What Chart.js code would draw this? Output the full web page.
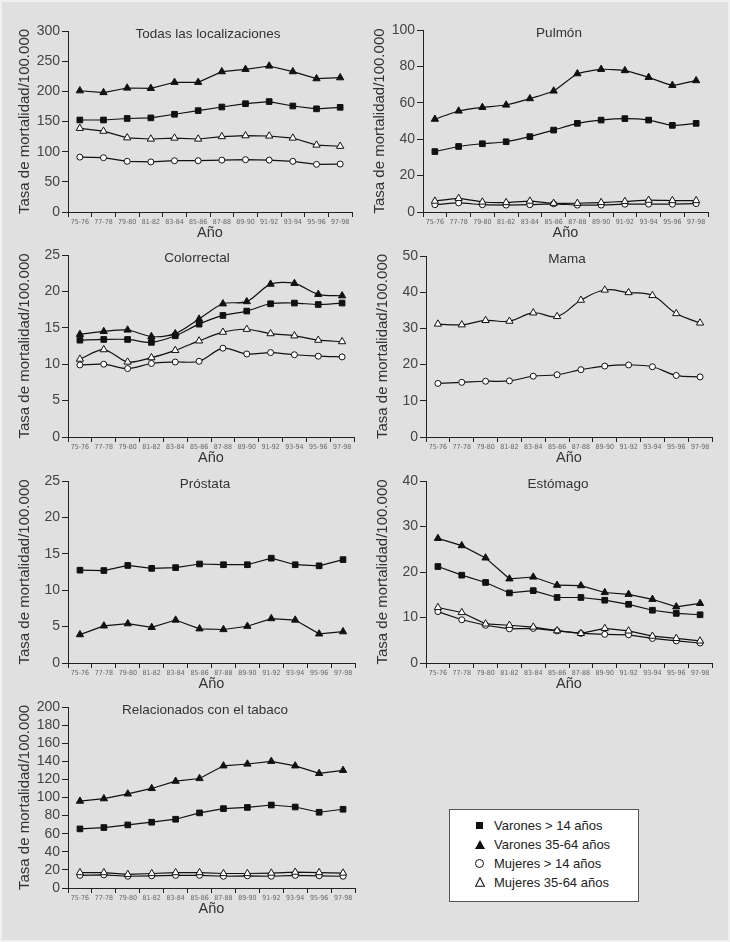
<!DOCTYPE html>
<html>
<head>
<meta charset="utf-8">
<script src="https://cdn.jsdelivr.net/npm/chart.js@4.4.0/dist/chart.umd.min.js"></script>
<style>
  body { margin: 0; background: #f2f2f2; }
  #page { position: relative; width: 730px; height: 942px; background: #e0e0e0;
          box-shadow: inset 0 0 0 2px #f0f0f0; overflow: hidden;
          font-family: 'Liberation Sans', Arial, sans-serif; }
  .panel { position: absolute; }
  #legend { position: absolute; left: 449px; top: 809px; width: 190px; height: 93px;
            background: #fff; border: 1px solid #555; box-sizing: border-box; }
  .row { position: absolute; left: 0; height: 19px; line-height: 19px; font-size: 13px; color: #222; }
  .row span.t { position: absolute; left: 44px; white-space: nowrap; }
  .sym { position: absolute; }
  .sq { left: 26px; top: 6px; width: 7px; height: 7px; background: #111; }
  .tri { left: 25px; top: 5px; width: 0; height: 0; border-left: 5px solid transparent; border-right: 5px solid transparent; border-bottom: 9px solid #111; }
  .cir { left: 25px; top: 5px; width: 7px; height: 7px; border: 1.3px solid #111; border-radius: 50%; background: #fff; }
  .otri { left: 25px; top: 4px; width: 10px; height: 10px; }
</style>
</head>
<body>
<div id="page">
  <div id="legend">
    <div class="row" style="top:6px"><div class="sym sq"></div><span class="t">Varones &gt; 14 años</span></div>
    <div class="row" style="top:25px"><div class="sym tri"></div><span class="t">Varones 35-64 años</span></div>
    <div class="row" style="top:44px"><div class="sym cir"></div><span class="t">Mujeres &gt; 14 años</span></div>
    <div class="row" style="top:63px"><svg class="sym otri" viewBox="0 0 10 10"><polygon points="5,0.8 9.4,9.2 0.6,9.2" fill="#fff" stroke="#111" stroke-width="1.1"/></svg><span class="t">Mujeres 35-64 años</span></div>
  </div>
</div>
<script>
const periods = ['75-76','77-78','79-80','81-82','83-84','85-86','87-88','89-90','91-92','93-94','95-96','97-98'];

const todasVar14   = [152.5,152.5,155,156,162,168,174,179.5,183,175.7,171,173.5];
const todasVar3564 = [201,198,205.5,205,215,215,232.6,236.5,242,232.6,221,222.6];
const todasMuj14   = [91,90,84,83,85,85,86,86.7,86,84,79,79.5];
const todasMuj3564 = [138.7,134,123,121,122.6,121,125,126.5,126,122.6,111,109];

const pulmonVar14   = [33.2,36,37.5,38.6,41.4,45,48.7,50.5,51.3,50.5,47.6,48.7];
const pulmonVar3564 = [51,55.5,57.5,58.8,62.3,66.5,76,78.4,77.7,74,69.6,72.2];
const pulmonMuj14   = [4,5,4,3.8,4,4.5,3.8,3.8,4.3,4.3,4.3,4.6];
const pulmonMuj3564 = [6,7.5,5.5,5.2,6,4.8,4.8,5.2,5.8,6.5,6.3,6.3];

const colorVar14   = [13.3,13.4,13.4,13,13.9,15.5,16.7,17.3,18.3,18.4,18.2,18.4];
const colorVar3564 = [14.1,14.5,14.7,13.8,14.2,16.2,18.3,18.6,21,21.1,19.6,19.4];
const colorMuj14   = [9.9,10,9.4,10.1,10.3,10.4,12.2,11.4,11.6,11.3,11.1,11];
const colorMuj3564 = [10.7,12,10.3,10.9,11.9,13.2,14.4,14.8,14.2,13.9,13.3,13.1];

const mamaMuj14   = [14.8,15.1,15.4,15.5,16.8,17.2,18.6,19.6,19.9,19.4,17,16.6];
const mamaMuj3564 = [31.2,31,32.2,32,34.3,33.3,37.8,40.6,39.9,39.1,34.1,31.5];

const prostataVar14   = [12.75,12.7,13.4,13,13.1,13.6,13.5,13.5,14.4,13.5,13.35,14.2];
const prostataVar3564 = [3.9,5.1,5.4,4.9,5.9,4.7,4.6,5.05,6.1,5.9,4.0,4.3];

const estomagoVar14   = [21.2,19.3,17.7,15.4,15.9,14.4,14.4,13.8,12.9,11.6,10.9,10.6];
const estomagoVar3564 = [27.4,25.8,23.1,18.5,18.9,17.1,17,15.5,15.1,14,12.35,13.1];
const estomagoMuj14   = [11.3,9.5,8.3,7.5,7.6,7.05,6.5,6.3,6.2,5.4,4.85,4.4];
const estomagoMuj3564 = [12.2,11.1,8.6,8.3,7.9,7.1,6.5,7.6,7.05,5.9,5.4,4.85];

const tabacoVar14   = [65.3,66.8,69.7,72.7,76,83,87.7,89,91.7,89.5,83.7,87];
const tabacoVar3564 = [96,98.7,104,110,118,121,135,137,140,135,126.6,130];
const tabacoMuj14   = [14,14.5,13,13.5,14,14,13,13.5,13,14,13.5,13];
const tabacoMuj3564 = [17,17,15,16,17,17,16,16,16.5,17.5,17,16.5];

const yTitle = 'Tasa de mortalidad/100.000';
const xTitle = 'Año';

// marker look for each group
const marks = {
  v14:   { label: 'Varones > 14 años',  pointStyle: 'rect',     radius: 4,   fill: '#111' },
  v3564: { label: 'Varones 35-64 años', pointStyle: 'triangle', radius: 4.2, fill: '#111' },
  m14:   { label: 'Mujeres > 14 años',  pointStyle: 'circle',   radius: 3,   fill: '#fff' },
  m3564: { label: 'Mujeres 35-64 años', pointStyle: 'triangle', radius: 4.2, fill: '#fff' }
};

// plot = [left, top, right, bottom] of the chart area on the page
const panels = [
  { title: 'Todas las localizaciones', max: 300, step: 50, plot: [68, 31, 352, 212], titleX: 208, tension: 0,
    series: [['v3564', todasVar3564], ['v14', todasVar14], ['m3564', todasMuj3564], ['m14', todasMuj14]] },
  { title: 'Pulmón', max: 100, step: 20, plot: [423, 30, 708, 212], titleX: 559, tension: 0.15,
    series: [['v3564', pulmonVar3564], ['v14', pulmonVar14], ['m3564', pulmonMuj3564], ['m14', pulmonMuj14]] },
  { title: 'Colorrectal', max: 25, step: 5, plot: [68, 255, 354, 437], titleX: 197, tension: 0.3,
    series: [['v3564', colorVar3564], ['v14', colorVar14], ['m3564', colorMuj3564], ['m14', colorMuj14]] },
  { title: 'Mama', max: 50, step: 10, plot: [426, 256, 712, 437], titleX: 567, tension: 0.4,
    series: [['m3564', mamaMuj3564], ['m14', mamaMuj14]] },
  { title: 'Próstata', max: 25, step: 5, plot: [68, 481, 355, 663], titleX: 205, tension: 0,
    series: [['v14', prostataVar14], ['v3564', prostataVar3564]] },
  { title: 'Estómago', max: 40, step: 10, plot: [426, 481, 712, 663], titleX: 558, tension: 0,
    series: [['v3564', estomagoVar3564], ['v14', estomagoVar14], ['m3564', estomagoMuj3564], ['m14', estomagoMuj14]] },
  { title: 'Relacionados con el tabaco', max: 200, step: 20, plot: [68, 707, 355, 888], titleX: 205, tension: 0,
    series: [['v3564', tabacoVar3564], ['v14', tabacoVar14], ['m3564', tabacoMuj3564], ['m14', tabacoMuj14]] }
];

const FONT = "'Liberation Sans', Arial, sans-serif";
const NARROW = "'Liberation Sans Narrow', 'DejaVu Sans Condensed', Arial, sans-serif";
const Y_W = 68, TOP_PAD = 31, RIGHT_PAD = 13, X_H = 32;

const panelTitle = {
  id: 'panelTitle',
  afterDraw(chart, args, opts) {
    const ctx = chart.ctx, a = chart.chartArea;
    ctx.save();
    ctx.font = '13.5px ' + FONT;
    ctx.fillStyle = '#333';
    ctx.textAlign = 'center';
    ctx.textBaseline = 'middle';
    ctx.fillText(opts.text, opts.x, a.top + 3);
    ctx.restore();
  }
};

const page = document.getElementById('page');

panels.forEach(p => {
  const left = p.plot[0] - Y_W, top = p.plot[1] - TOP_PAD;
  const w = p.plot[2] + RIGHT_PAD - left, h = p.plot[3] + X_H - top;
  const div = document.createElement('div');
  div.className = 'panel';
  div.style.left = left + 'px';
  div.style.top = top + 'px';
  div.style.width = w + 'px';
  div.style.height = h + 'px';
  const canvas = document.createElement('canvas');
  canvas.width = w;
  canvas.height = h;
  div.appendChild(canvas);
  page.appendChild(div);

  new Chart(canvas, {
    type: 'line',
    data: {
      labels: periods,
      datasets: p.series.map(([k, vals]) => ({
        label: marks[k].label,
        data: vals,
        borderColor: '#111',
        borderWidth: 1.2,
        fill: false,
        tension: p.tension,
        pointStyle: marks[k].pointStyle,
        pointRadius: marks[k].radius,
        pointBackgroundColor: marks[k].fill,
        pointBorderColor: '#111',
        pointBorderWidth: 1
      }))
    },
    options: {
      responsive: false,
      animation: false,
      layout: { padding: { left: 0, top: TOP_PAD, right: RIGHT_PAD, bottom: 0 } },
      plugins: {
        legend: { display: false },
        tooltip: { enabled: false },
        panelTitle: { text: p.title, x: p.titleX - left }
      },
      scales: {
        x: {
          offset: true,
          grid: { offset: true, drawOnChartArea: false, drawTicks: true, tickLength: 5, color: '#222', lineWidth: 1 },
          border: { display: true, color: '#222', width: 1 },
          ticks: { autoSkip: false, maxRotation: 0, minRotation: 0, padding: 1, color: '#666', font: { family: NARROW, size: 7 } },
          title: { display: true, text: xTitle, color: '#333', font: { family: FONT, size: 14.5 }, padding: { top: 0, bottom: 2 } },
          afterFit: s => { s.height = X_H; }
        },
        y: {
          min: 0,
          max: p.max,
          ticks: { stepSize: p.step, autoSkip: false, padding: 2, color: '#444', font: { family: FONT, size: 14 } },
          grid: { drawOnChartArea: false, drawTicks: true, tickLength: 6, color: '#222', lineWidth: 1 },
          border: { display: true, color: '#222', width: 1 },
          title: { display: true, text: yTitle, color: '#333', font: { family: FONT, size: 15 }, padding: { top: 16, bottom: 0 } },
          afterFit: s => { s.width = Y_W; }
        }
      }
    },
    plugins: [panelTitle]
  });
});
</script>
</body>
</html>
